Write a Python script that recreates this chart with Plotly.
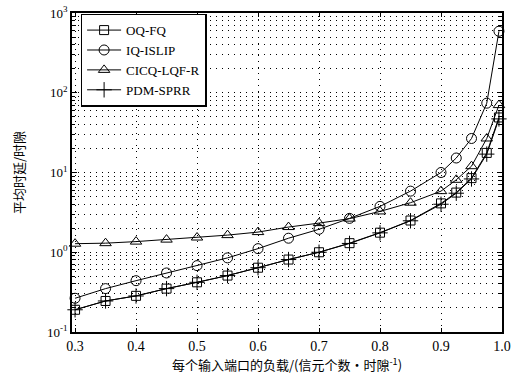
import plotly.graph_objects as go

load = [0.3, 0.35, 0.4, 0.45, 0.5, 0.55, 0.6, 0.65, 0.7, 0.75, 0.8, 0.85, 0.9, 0.925, 0.95, 0.975, 0.995]
oq_fq = [0.19, 0.245, 0.284, 0.35, 0.42, 0.51, 0.64, 0.81, 1.0, 1.3, 1.76, 2.5, 4.1, 5.6, 8.5, 17.6, 49]
iq_islip = [0.265, 0.35, 0.44, 0.55, 0.68, 0.85, 1.11, 1.5, 1.94, 2.66, 3.76, 5.84, 10.0, 15.2, 26.7, 74, 590]
cicq = [1.28, 1.3, 1.36, 1.44, 1.53, 1.64, 1.79, 2.07, 2.32, 2.64, 3.25, 4.18, 5.84, 8.1, 12.0, 26.7, 70]
pdm_sprr = [0.19, 0.245, 0.283, 0.35, 0.42, 0.51, 0.64, 0.81, 1.0, 1.29, 1.75, 2.48, 4.0, 5.5, 8.3, 17.0, 47]

series = [
    ("OQ-FQ", oq_fq, "square-open", 9),
    ("IQ-ISLIP", iq_islip, "circle-open", 10),
    ("CICQ-LQF-R", cicq, "triangle-up-open", 10),
    ("PDM-SPRR", pdm_sprr, "cross-thin-open", 11),
]

x_ticks = [0.3, 0.4, 0.5, 0.6, 0.7, 0.8, 0.9, 1.0]
x_labels = ["0.3", "0.4", "0.5", "0.6", "0.7", "0.8", "0.9", "1.0"]
y_ticks = [0.1, 1, 10, 100, 1000]
y_labels = ["10<sup>-1</sup>", "10<sup>0</sup>", "10<sup>1</sup>", "10<sup>2</sup>", "10<sup>3</sup>"]
y_minor = [m * d for d in [0.1, 1, 10, 100] for m in range(2, 10)]

fig = go.Figure()
for name, vals, sym, sz in series:
    fig.add_trace(go.Scatter(
        x=load, y=vals, name=name, mode="lines+markers",
        line=dict(color="black", width=1),
        marker=dict(symbol=sym, size=sz, color="black", line=dict(color="black", width=1)),
        cliponaxis=False,
    ))

serif = "Liberation Serif, Times New Roman, serif"
dots = "1px,5px"
fig.update_layout(
    width=511, height=381,
    margin=dict(l=72, r=9, t=13, b=49),
    paper_bgcolor="white", plot_bgcolor="white",
    font=dict(family=serif, size=13, color="black"),
    showlegend=True,
    legend=dict(x=0.02, y=0.998, xanchor="left", yanchor="top",
                bordercolor="black", borderwidth=1.5, bgcolor="white",
                font=dict(family=serif, size=13), tracegroupgap=0,
                itemwidth=34),
)
fig.update_xaxes(
    range=[0.295, 1.0], tickvals=x_ticks, ticktext=x_labels, automargin=False,
    showline=True, linecolor="black", linewidth=1.5, mirror="ticks",
    ticks="inside", ticklen=4, tickcolor="black",
    showgrid=True, gridcolor="black", gridwidth=1, griddash=dots,
    zeroline=False,
    tickfont=dict(family=serif, size=14),
    title=dict(text="每个输入端口的负载/(信元个数·时隙<sup>-1</sup>)",
               font=dict(family="Noto Sans CJK SC", size=13), standoff=6),
)
fig.update_yaxes(
    type="log", range=[-1, 3], tickvals=y_ticks, ticktext=y_labels, automargin=False,
    showline=True, linecolor="black", linewidth=1.5, mirror="ticks",
    ticks="inside", ticklen=5, tickcolor="black",
    showgrid=True, gridcolor="black", gridwidth=1, griddash=dots,
    minor=dict(tickmode="array", tickvals=y_minor, ticks="inside", ticklen=3,
               tickcolor="black", showgrid=True,
               gridcolor="black", griddash=dots, gridwidth=1),
    zeroline=False,
    tickfont=dict(family=serif, size=13),
    title=dict(text="平均时延/时隙", font=dict(family="Noto Sans CJK SC", size=13), standoff=20),
)

fig.write_html("out.html", config={"displayModeBar": False},
               post_script="document.body.style.margin='0';document.body.style.overflow='hidden';")
